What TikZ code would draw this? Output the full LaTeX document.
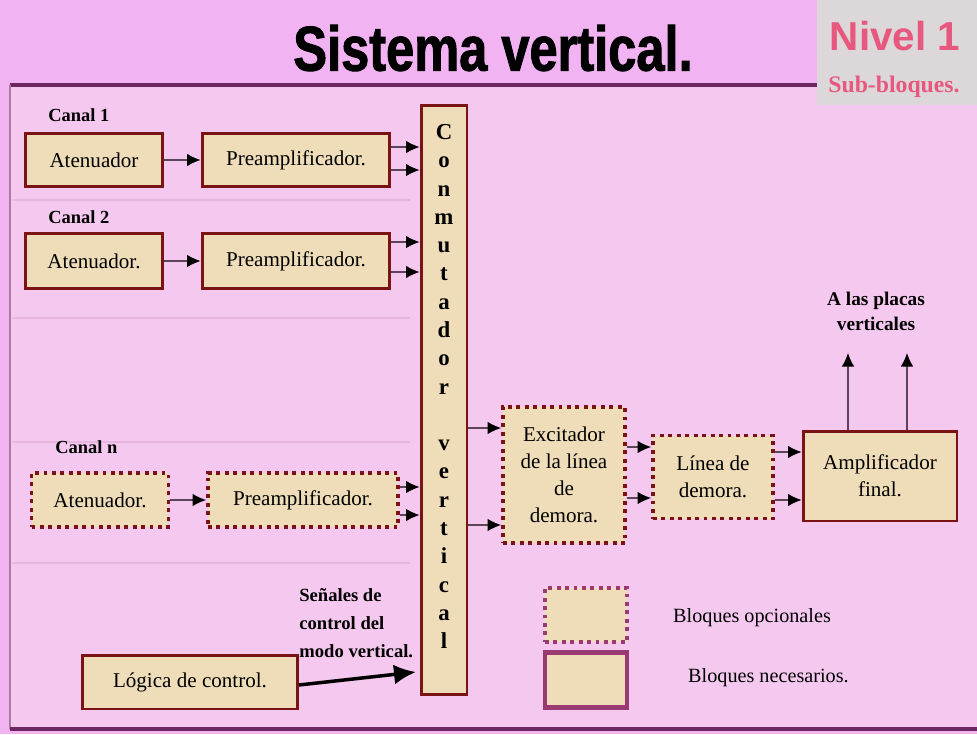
\documentclass[tikz,border=0pt]{standalone}
\usepackage{fontspec}
\setmainfont{Liberation Serif}
\newfontfamily\titlefont{Liberation Sans}[FakeStretch=0.8, FakeBold=1.5]
\newfontfamily\nivelfont{Liberation Sans}
\usetikzlibrary{arrows.meta}
\definecolor{fondo}{HTML}{F2B3F2}
\definecolor{panel}{HTML}{F5C8EF}
\definecolor{gris}{HTML}{DCD8DA}
\definecolor{borde}{HTML}{7A1414}
\definecolor{papel}{HTML}{EEDDB8}
\definecolor{linea}{HTML}{6E2660}
\definecolor{rosa}{HTML}{E8587E}
\definecolor{flecha}{HTML}{5A4656}
\definecolor{leyenda}{HTML}{993A72}
\definecolor{sep}{HTML}{E6B6DE}

\begin{document}
\begin{tikzpicture}[x=0.02cm, y=-0.02cm,
		bloque/.style={draw=borde, line width=1.7pt, fill=papel, inner sep=0pt, align=center, font=\fontsize{12}{15.3}\selectfont},
		opcional/.style={bloque, line width=2.2pt, dash pattern=on 2.2pt off 2.6pt},
		canal/.style={anchor=west, inner sep=0pt, font=\fontsize{10.5}{12}\selectfont\bfseries},
		flec/.style={draw=flecha, line width=0.7pt, -{Latex[length=0.27cm, width=0.25cm, black]}}]
	\useasboundingbox (0,0) rectangle (977,734);

	% fondo
	\fill[fondo] (0,0) rectangle (977,734);
	\fill[panel] (10,85) rectangle (977,729);
	\fill[gris] (817,0) rectangle (977,105);
	\draw[linea, line width=1.8pt] (10,85) -- (817,85);
	\draw[linea!60, line width=0.8pt] (10,85) -- (10,729);
	\draw[linea, line width=2.2pt] (10,729) -- (977,729);
	\foreach \y in {200,318,442,563} {
		\draw[sep, line width=0.8pt] (12,\y) -- (410,\y);
	}

	\node[font=\titlefont\fontsize{36}{40}\selectfont\bfseries] (titulo) at (493,48) {Sistema vertical.};
	\node[text=rosa, font=\nivelfont\fontsize{23}{26}\selectfont\bfseries] (nivel) at (895,36) {Nivel 1};
	\node[text=rosa, font=\fontsize{13.5}{15}\selectfont\bfseries] (sub) at (894,87) {Sub-bloques.};

	% canales
	\node[canal] (c1) at (48,115) {Canal 1};
	\node[bloque, minimum width=2.76cm, minimum height=1.06cm] (at1) at (94,160) {Atenuador};
	\node[bloque, minimum width=3.76cm, minimum height=1.06cm] (pre1) at (296,160) {Preamplificador.};

	\node[canal] (c2) at (48,217) {Canal 2};
	\node[bloque, minimum width=2.76cm, minimum height=1.1cm] (at2) at (94,261) {Atenuador.};
	\node[bloque, minimum width=3.76cm, minimum height=1.1cm] (pre2) at (296,261) {Preamplificador.};

	\node[canal] (cn) at (55,447) {Canal n};
	\node[opcional, minimum width=2.74cm, minimum height=1.08cm] (atn) at (100,500) {Atenuador.};
	\node[opcional, minimum width=3.8cm, minimum height=1.08cm] (pren) at (303,500) {Preamplificador.};

	% conmutador
	\node[bloque, minimum width=0.92cm, minimum height=11.8cm] (conm) at (444,400) {};
	\node[anchor=north, inner sep=0pt, align=center, font=\fontsize{13}{16.1}\selectfont\bfseries] (conmtxt) at (444,124)
		{C\\o\\n\\m\\u\\t\\a\\d\\o\\r\\[16.1pt]v\\e\\r\\t\\i\\c\\a\\l};

	% etapas de salida
	\node[opcional, minimum width=2.44cm, minimum height=2.72cm] (exc) at (564,475) {Excitador\\de la línea\\de\\demora.};
	\node[opcional, minimum width=2.4cm, minimum height=1.66cm] (lin) at (713,477) {Línea de\\demora.};
	\node[bloque, minimum width=3.08cm, minimum height=1.8cm] (amp) at (880,476) {Amplificador\\final.};
	\node[align=center, font=\fontsize{11}{14.2}\selectfont\bfseries] (placas) at (876,311) {A las placas\\verticales};
	\coordinate (placa1) at (848,353);
	\coordinate (placa2) at (907,353);

	% control
	\node[bloque, minimum width=4.3cm, minimum height=1.08cm] (log) at (190,682) {Lógica de control.};
	\node[anchor=west, align=left, inner sep=0pt, font=\fontsize{10.6}{15.9}\selectfont\bfseries] (senal) at (299,623)
		{Señales de\\control del\\modo vertical.};
	\coordinate (ctrl) at (416,672);

	% leyenda
	\node[opcional, draw=leyenda, minimum width=1.64cm, minimum height=1.08cm] (leg1) at (586,615) {};
	\node[bloque, draw=leyenda, line width=2.4pt, minimum width=1.64cm, minimum height=1.1cm] (leg2) at (586,680) {};
	\node[anchor=west, font=\fontsize{11.5}{13}\selectfont] (txt1) at (667,618) {Bloques opcionales};
	\node[anchor=west, font=\fontsize{11.5}{13}\selectfont] (txt2) at (682,678) {Bloques necesarios.};

	% flechas
	\draw[flec] (at1) -- (pre1);
	\draw[flec] (at2) -- (pre2);
	\draw[flec] (atn) -- (pren);
	\foreach \n/\y in {pre1/147,pre1/170,pre2/242,pre2/272,pren/487,pren/515} {
		\draw[flec] (\n.east |- 0,\y) -- (conm.west |- 0,\y);
	}
	\foreach \y in {428,525} {
		\draw[flec] (conm.east |- 0,\y) -- (exc.west |- 0,\y);
	}
	\foreach \y in {447,498} {
		\draw[flec] (exc.east |- 0,\y) -- (lin.west |- 0,\y);
	}
	\foreach \y in {452,500} {
		\draw[flec] (lin.east |- 0,\y) -- (amp.west |- 0,\y);
	}
	\foreach \p in {placa1,placa2} {
		\draw[flec] (amp.north -| \p) -- (\p);
	}
	\draw[black, line width=2pt, -{Latex[length=0.44cm, width=0.4cm]}] (log.east |- 0,685) -- (ctrl);
\end{tikzpicture}
\end{document}
